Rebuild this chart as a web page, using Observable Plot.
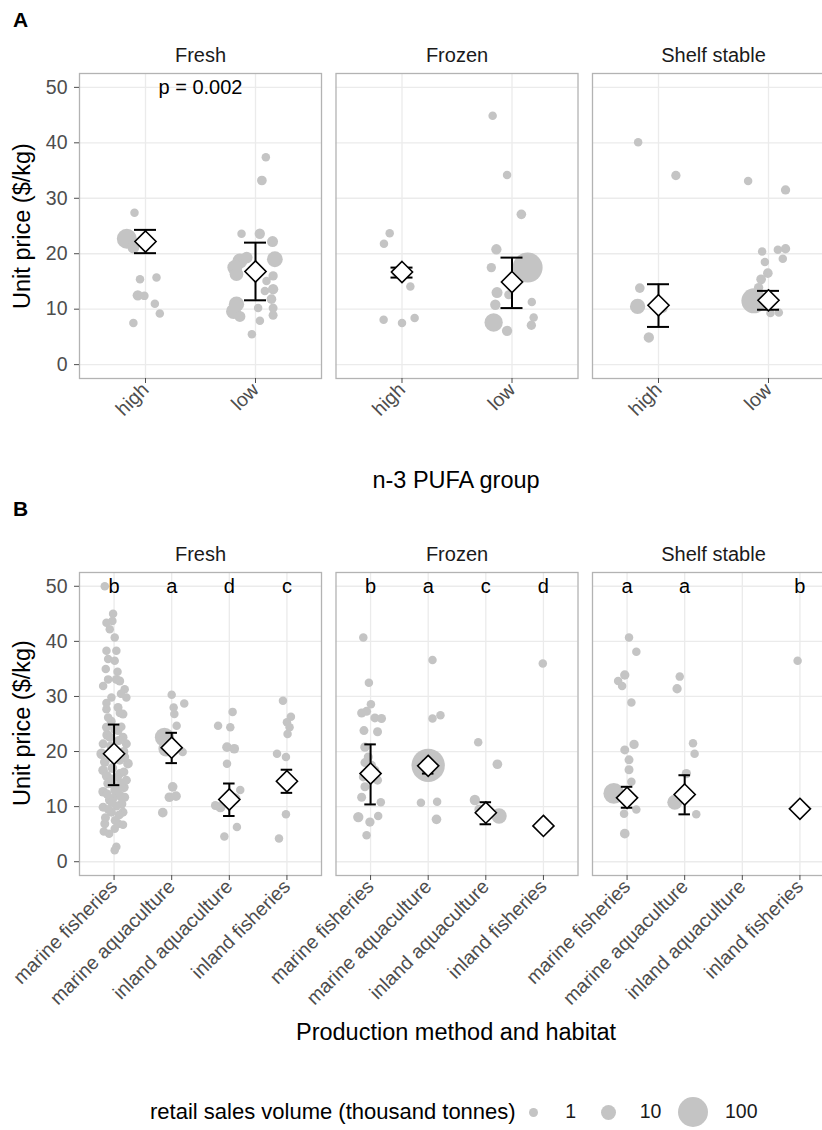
<!DOCTYPE html>
<html><head><meta charset="utf-8">
<script src="https://cdn.jsdelivr.net/npm/d3@7"></script>
<script src="https://cdn.jsdelivr.net/npm/@observablehq/plot@0.6"></script>
<style>
body{margin:0;background:#fff;overflow:hidden}
#fig{position:relative;width:822px;height:1130px;overflow:hidden;font-family:"Liberation Sans",Arial,Helvetica,sans-serif;color:#000;background:#fff}
#fig svg{max-width:none !important}
.abs{position:absolute;white-space:nowrap;line-height:1}
.tag{font-weight:bold;font-size:21px}
.title{font-size:23.5px;transform:translate(-50%,-50%)}
.ytitle{font-size:23.5px;transform:translate(-50%,-50%) rotate(-90deg)}
#legend{display:flex;align-items:center;transform:translateY(-50%)}
#legend .lt{font-size:22px;color:#000;margin-right:2px}
#legend .key{width:32px;display:flex;justify-content:center;align-items:center}
#legend .kl{font-size:19.5px;color:#1a1a1a;margin-left:15.6px;margin-right:16px}
</style></head>
<body>
<div id="fig">
  <div class="abs tag" style="left:13px;top:9px">A</div>
  <div id="plotA" class="abs" style="left:0;top:0;width:838px"></div>
  <div class="abs ytitle" style="left:23px;top:226px">Unit price ($/kg)</div>
  <div class="abs title" style="left:456px;top:481px">n-3 PUFA group</div>
  <div class="abs tag" style="left:13px;top:498px">B</div>
  <div id="plotB" class="abs" style="left:0;top:500px;width:838px"></div>
  <div class="abs ytitle" style="left:23px;top:723px">Unit price ($/kg)</div>
  <div class="abs title" style="left:456px;top:1033px">Production method and habitat</div>
  <div id="legend" class="abs" style="left:150px;top:1112px"></div>
</div>
<script>
const FONT = '"Liberation Sans", Arial, Helvetica, sans-serif';

// ---- categories & ticks ----
const storage = ["Fresh", "Frozen", "Shelf stable"];
const pufaGroups = ["high", "low"];
const habitats = ["marine fisheries", "marine aquaculture", "inland aquaculture", "inland fisheries"];
const yTicks = [0, 10, 20, 30, 40, 50];
const sizeBreaks = [1, 10, 100];
const legendTitle = "retail sales volume (thousand tonnes)";

// ---- panel A points: [unit price $/kg, retail volume kt, jitter] ----
const aFreshHigh = [[27.4,0.5,-0.10],[22.7,40,-0.17],[21.1,5,-0.11],[15.4,0.5,-0.05],[15.7,0.5,0.10],[12.5,3,-0.07],[12.4,0.5,-0.01],[11.0,0.5,0.085],[9.2,0.5,0.13],[7.5,0.5,-0.11]];
const aFreshLow = [[37.4,0.5,0.094],[33.2,2,0.058],[23.6,0.5,-0.127],[23.6,3,0.039],[22.2,4,0.155],[19.0,15,0.176],[18.7,10,-0.142],[17.5,10,-0.188],[16.3,8,-0.173],[19.3,5,-0.08],[15.1,0.5,0.1],[16.0,1.5,0.16],[13.3,0.5,0.085],[13.6,3,0.16],[11.8,2,0.145],[10.9,12,-0.173],[9.6,10,-0.2],[8.7,4,-0.142],[10.2,0.5,0.024],[10.2,1,0.16],[8.9,1,0.16],[7.9,0.5,0.04],[5.5,0.5,-0.033]];
const aFrozenHigh = [[23.7,0.5,-0.112],[21.8,0.5,-0.164],[16.7,3,-0.05],[14.1,0.5,0.076],[8.1,0.5,-0.167],[7.5,0.5,0],[8.4,0.5,0.115]];
const aFrozenLow = [[44.9,0.5,-0.176],[34.2,0.5,-0.045],[27.1,2,0.085],[20.8,3,-0.142],[17.5,1.5,-0.188],[17.5,100,0.142],[13.0,4,-0.136],[10.8,3,-0.152],[12.6,1,-0.03],[11.3,0.5,0.18],[8.5,0.5,0.197],[7.1,1.5,0.176],[7.6,30,-0.167],[6.1,3,-0.045]];
const aShelfHigh = [[40.1,0.5,-0.185],[34.1,1.5,0.158],[13.8,2,-0.17],[10.5,12,-0.19],[4.9,3,-0.088],[10.2,2,0.04]];
const aShelfLow = [[33.1,0.5,-0.185],[31.5,1.5,0.155],[20.4,0.5,-0.058],[20.7,0.5,0.085],[20.9,1.5,0.155],[18.5,0.5,-0.033],[19.1,0.5,0.13],[16.5,2,-0.006],[15.4,2,-0.067],[11.5,70,-0.133],[9.3,0.5,0.018],[9.4,0.5,0.094],[13.9,1.5,-0.09]];

// panel A summaries (Fresh high, Fresh low, Frozen high, Frozen low, Shelf high, Shelf low)
const aMean  = [22.2, 16.8, 16.7, 14.9, 10.7, 11.6];
const aLower = [20.1, 11.6, 15.7, 10.2, 6.8, 9.9];
const aUpper = [24.3, 22.0, 17.5, 19.3, 14.5, 13.3];
const aNote = ["p = 0.002", "", ""];

// ---- panel B points ----
const bFreshMF = [[50.0,0.5,-0.161],[45.0,0.5,-0.017],[43.7,0.5,-0.029],[43.4,0.5,-0.132],[42.2,0.5,-0.075],[40.7,0.5,0.011],[38.3,0.5,-0.132],[38.3,0.5,0.040],[36.8,0.5,-0.103],[36.5,0.5,0.011],[35.0,0.5,-0.144],[33.1,0.5,-0.103],[33.1,1,0.040],[32.8,1,0.098],[31.9,0.5,-0.190],[31.3,0.5,0.184],[29.8,0.5,-0.046],[29.8,0.5,0.213],[27.7,0.5,-0.132],[28.0,1,0.069],[26.8,1,0.155],[26.2,0.5,-0.103],[24.4,1,-0.132],[23.8,1,0.069],[22.6,1,-0.075],[22.6,1,0.155],[21.4,1,-0.190],[21.4,1,0.213],[19.6,3,-0.218],[19.0,1,0.184],[18.1,2,-0.161],[17.8,2,0.241],[16.6,2,-0.190],[16.0,1,0.098],[14.2,2,-0.103],[14.2,1,0.126],[12.7,2,-0.190],[12.9,2,0.040],[11.7,1,0.184],[11.2,2,-0.075],[9.9,1,-0.190],[10.1,1,0.040],[9.0,1,0.155],[9.0,1,-0.046],[6.9,1,-0.161],[6.9,1,0.069],[6.7,0.5,0.155],[6.0,0.5,0.011],[5.1,0.5,-0.086],[5.5,0.5,-0.178],[2.7,0.5,0.040],[2.1,0.5,0.011],[20.5,2,-0.017],[18.5,2,0.098],[15.0,1,-0.046],[13.0,1,0.011],[14.8,1,0.213],[28.8,0.5,-0.132],[24.5,0.5,0.126],[11.5,1,-0.017],
  [24.0,1,0.01],[23.0,2,-0.12],[22.0,1,0.08],[21.0,2,-0.05],[20.0,1,0.17],[19.2,2,0.05],[17.0,2,-0.03],[16.3,1,0.17],[15.6,2,-0.13],[15.3,1,0.06],[14.0,1,-0.02],[13.5,2,0.17],[12.3,1,-0.12],[12.0,2,0.1],[10.8,1,-0.04],[10.5,2,0.13],[9.5,1,-0.1],[8.5,1,0.09],[8.0,1,-0.15],[7.5,1,0.02],[25.5,1,-0.05],[27.0,0.5,0.1],[30.5,0.5,0.12],[34.5,0.5,0.06]];
const bFreshMA = [[30.3,0.5,0],[28.7,0.5,0.218],[28.0,0.5,0.034],[26.8,0.5,0.046],[24.7,0.5,0.086],[22.6,35,-0.126],[20.5,12,-0.098],[19.9,0.5,0.190],[13.6,2,0.017],[11.7,2,-0.040],[11.9,2,0.075],[8.9,2,-0.155]];
const bFreshIA = [[27.2,0.5,0.057],[24.7,0.5,-0.195],[24.4,0.5,0.017],[20.8,2,-0.040],[20.5,2,0.086],[17.8,0.5,-0.040],[13.0,0.5,0.190],[9.9,3,-0.155],[10.2,1,-0.241],[6.3,0.5,0.132],[4.6,0.5,-0.086],[11.5,3,0.103]];
const bFreshIF = [[29.2,0.5,-0.069],[26.3,0.5,0.069],[25.3,0.5,0],[24.4,0.5,0.046],[23.2,0.5,0.011],[19.6,0.5,-0.172],[19.0,0.5,-0.017],[8.6,0.5,-0.017],[4.2,0.5,-0.138],[14.5,2,0.029]];
const bFrozenMF = [[40.7,0.5,-0.126],[32.5,0.5,-0.029],[28.6,0.5,0.006],[27.0,1,-0.155],[27.3,1,-0.069],[26.1,1,0.075],[26.0,1,0.190],[23.8,1,-0.115],[23.6,1,0.121],[20.8,1.5,-0.098],[19.0,1,-0.040],[16.6,1,0.075],[15.4,1,-0.126],[14.8,1,0.121],[13.6,1,-0.098],[11.7,1,-0.155],[10.8,0.5,0.178],[8.1,3,-0.213],[7.2,1.5,-0.011],[8.3,0.5,0.132],[4.8,0.5,-0.069],[17.5,1,0.017],[18.0,1,-0.098]];
const bFrozenMA = [[36.6,0.5,0.075],[26.0,0.5,0.075],[26.6,0.5,0.213],[17.5,120,0],[10.7,0.5,-0.126],[10.9,0.5,0.155],[7.7,2,0.144]];
const bFrozenIA = [[21.7,0.5,-0.132],[17.7,2,0.201],[11.2,3,-0.190],[8.3,12,0.230],[9.5,2,-0.115]];
const bFrozenIF = [[36.0,0.5,-0.011],[6.5,3,0]];
const bShelfMF = [[40.7,0.5,0.034],[38.1,0.5,0.161],[33.9,1.5,-0.040],[32.8,0.5,-0.155],[31.9,0.5,-0.086],[28.9,0.5,0.075],[20.3,1,-0.040],[21.3,1.5,0.121],[18.5,1,0.034],[16.7,1,0.034],[12.4,45,-0.23],[14.5,0.5,0.075],[8.7,0.5,-0.052],[9.5,0.5,0.161],[5.1,2,-0.040]];
const bShelfMA = [[33.6,0.5,-0.086],[31.4,1.5,-0.132],[21.5,0.5,0.144],[19.6,0.5,0.172],[16.0,1.5,0.029],[10.8,10,-0.172],[8.6,0.5,0.201]];
const bShelfIA = [];
const bShelfIF = [[36.5,0.5,-0.040],[9.6,3,0]];

// panel B summaries, storage x habitat order
const bMean  = [19.6, 20.7, 11.3, 14.6, 16.0, 17.4, 8.9, 6.5, 11.6, 12.2, null, 9.6];
const bLower = [13.9, 17.9, 8.3, 12.5, 10.4, 16.0, 6.8, null, 9.8, 8.6, null, null];
const bUpper = [24.9, 23.4, 14.2, 16.7, 21.3, 18.3, 10.8, null, 13.6, 15.7, null, null];
const bLetters = ["b","a","d","c","b","a","c","d","a","a","","b"];
const letterY = 50;

// ---- assemble tables ----
const aGroups = [aFreshHigh, aFreshLow, aFrozenHigh, aFrozenLow, aShelfHigh, aShelfLow];
const bGroups = [bFreshMF, bFreshMA, bFreshIA, bFreshIF, bFrozenMF, bFrozenMA, bFrozenIA, bFrozenIF, bShelfMF, bShelfMA, bShelfIA, bShelfIF];

function rowsOf(groups, nCat) {
  return groups.flatMap((g, i) => g.map(([price, vol, jit]) => ({
    storage: storage[Math.floor(i / nCat)], cat: (i % nCat) + 1, price, vol, jit
  })));
}
function summaryOf(mean, lo, hi, nCat) {
  return mean.map((m, i) => ({storage: storage[Math.floor(i / nCat)], cat: (i % nCat) + 1, mean: m, lo: lo[i], hi: hi[i]}));
}

function facetPlot({rows, summary, labels, cats, height, marginTop, marginBottom}) {
  const n = cats.length;
  const catTicks = d3.range(1, n + 1);
  const bars = summary.filter(d => d.lo != null && d.hi != null);
  const means = summary.filter(d => d.mean != null);
  return Plot.plot({
    width: 838, height, marginLeft: 79, marginRight: 4, marginTop, marginBottom,
    style: {fontFamily: FONT, fontSize: "19.5px", color: "#4d4d4d", background: "transparent", overflow: "visible", maxWidth: "none"},
    fx: {domain: storage, paddingInner: 0.0565, paddingOuter: 0, round: false, label: null},
    x: {domain: [0.4, n + 0.6], label: null},
    y: {domain: [-2.5, 52.5], label: null},
    r: {type: "linear", domain: [0, 1, 10, 100], range: [4, 4.5, 7.5, 15]},
    marks: [
      Plot.gridY({ticks: yTicks, stroke: "#ebebeb", strokeOpacity: 1, strokeWidth: 1.3}),
      Plot.gridX({ticks: catTicks, stroke: "#ebebeb", strokeOpacity: 1, strokeWidth: 1.3}),
      Plot.dot(rows, {fx: "storage", x: d => d.cat + d.jit, y: "price", r: "vol", fill: "#c4c4c4", stroke: "none"}),
      Plot.ruleX(bars, {fx: "storage", x: "cat", y1: "lo", y2: "hi", stroke: "#000", strokeWidth: 2}),
      Plot.ruleY(bars, {fx: "storage", y: "lo", x1: d => d.cat - 0.1, x2: d => d.cat + 0.1, stroke: "#000", strokeWidth: 2}),
      Plot.ruleY(bars, {fx: "storage", y: "hi", x1: d => d.cat - 0.1, x2: d => d.cat + 0.1, stroke: "#000", strokeWidth: 2}),
      Plot.dot(means, {fx: "storage", x: "cat", y: "mean", symbol: "diamond2", r: 9.5, fill: "white", stroke: "#000", strokeWidth: 1.6}),
      Plot.text(labels, {fx: "storage", x: "x", y: "y", text: "text", fontSize: 20, fill: "#000"}),
      Plot.frame({stroke: "#b3b3b3", strokeWidth: 1.3}),
      Plot.axisY({ticks: yTicks, tickSize: 5, tickPadding: 7, label: null}),
      Plot.axisX({ticks: catTicks, tickFormat: i => cats[i - 1], tickRotate: -45, tickSize: 5, tickPadding: 3, label: null}),
      Plot.axisFx({anchor: "top", tickSize: 0, tickPadding: 12, fontSize: 20, color: "#1a1a1a", label: null})
    ]
  });
}

const aLabels = aNote.map((t, i) => ({storage: storage[i], x: 1.5, y: letterY, text: t})).filter(d => d.text);
const bLabels = bLetters.map((t, i) => ({storage: storage[Math.floor(i / 4)], x: (i % 4) + 1, y: letterY, text: t})).filter(d => d.text);

const plotA = facetPlot({rows: rowsOf(aGroups, 2), summary: summaryOf(aMean, aLower, aUpper, 2), labels: aLabels, cats: pufaGroups, height: 440, marginTop: 73, marginBottom: 62});
const plotB = facetPlot({rows: rowsOf(bGroups, 4), summary: summaryOf(bMean, bLower, bUpper, 4), labels: bLabels, cats: habitats, height: 520, marginTop: 72, marginBottom: 145});
document.getElementById("plotA").appendChild(plotA);
document.getElementById("plotB").appendChild(plotB);

// ---- legend using the plot's r scale ----
const rScale = plotB.scale("r");
const legend = d3.select("#legend");
legend.append("span").attr("class", "lt").text(legendTitle);
for (const v of sizeBreaks) {
  const rr = rScale.apply(v);
  const key = legend.append("span").attr("class", "key");
  const svg = key.append("svg").attr("width", 2 * rr + 2).attr("height", 2 * rr + 2);
  svg.append("circle").attr("cx", rr + 1).attr("cy", rr + 1).attr("r", rr).attr("fill", "#c4c4c4");
  legend.append("span").attr("class", "kl").text(v);
}
</script>
</body></html>
